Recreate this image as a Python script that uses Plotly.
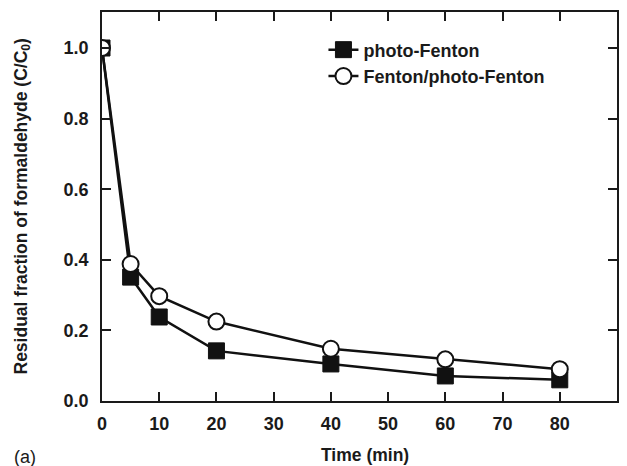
import plotly.graph_objects as go

time_min = [0, 5, 10, 20, 40, 60, 80]
photo_fenton = [1.0, 0.351, 0.238, 0.142, 0.105, 0.071, 0.060]
fenton_photo_fenton = [1.0, 0.388, 0.297, 0.225, 0.148, 0.118, 0.090]

x_ticks = [0, 10, 20, 30, 40, 50, 60, 70, 80, 90]
y_ticks = [0.0, 0.2, 0.4, 0.6, 0.8, 1.0]
y_tick_labels = ["0.0", "0.2", "0.4", "0.6", "0.8", "1.0"]

font_family = "Liberation Sans, Arial, sans-serif"
ink = "#1a1a1a"

fig = go.Figure()
fig.add_trace(go.Scatter(
    x=time_min, y=photo_fenton, mode="lines+markers", name="<b>photo-Fenton</b>",
    line=dict(color="#111111", width=2.5),
    marker=dict(symbol="square", size=16, color="#111111", line=dict(color="#111111", width=1)),
))
fig.add_trace(go.Scatter(
    x=time_min, y=fenton_photo_fenton, mode="lines+markers", name="<b>Fenton/photo-Fenton</b>",
    line=dict(color="#111111", width=2.5),
    marker=dict(symbol="circle", size=16, color="white", line=dict(color="#111111", width=2)),
))

axis_common = dict(ticks="inside", ticklen=9, tickwidth=1.5, tickcolor=ink,
                   showline=True, linecolor=ink, linewidth=1.8, mirror="ticks",
                   showgrid=False, zeroline=False, automargin=False,
                   tickfont=dict(size=18, family=font_family, color=ink))

fig.update_layout(
    width=627, height=466,
    margin=dict(l=102, r=10, t=12, b=65),
    paper_bgcolor="white", plot_bgcolor="white",
    font=dict(family=font_family, color=ink, size=17),
    showlegend=True,
    legend=dict(x=0.43, y=0.95, xanchor="left", yanchor="top",
                bgcolor="rgba(0,0,0,0)", font=dict(size=18, family=font_family, color=ink),
                itemwidth=30, tracegroupgap=0),
    xaxis=dict(range=[0, 90], tickvals=x_ticks, ticktext=["<b>%d</b>" % v for v in x_ticks],
               ticklabelstandoff=5, **axis_common),
    yaxis=dict(range=[0, 1.102], tickvals=y_ticks,
               ticktext=["<b>%s</b>" % t for t in y_tick_labels],
               ticklabelstandoff=8, **axis_common),
)

fig.add_annotation(text="<b>Time (min)</b>", xref="paper", yref="paper",
                   x=0.51, y=0, yshift=-54, xanchor="center", yanchor="middle",
                   showarrow=False, font=dict(size=17.5, family=font_family, color=ink))
fig.add_annotation(text="<b>Residual fraction of formaldehyde (C/C<sub>0</sub>)</b>",
                   xref="paper", yref="paper", x=0, xshift=-80, y=0.5,
                   xanchor="center", yanchor="middle", textangle=-90,
                   showarrow=False, font=dict(size=17.5, family=font_family, color=ink))
fig.add_annotation(text="(a)", xref="paper", yref="paper", x=0, xshift=-90, y=0, yshift=-56,
                   xanchor="left", yanchor="middle", showarrow=False,
                   font=dict(size=18, family=font_family, color=ink))

fig.write_html("out.html", config={"displayModeBar": False},
               post_script="document.body.style.margin='0';document.body.style.overflow='hidden';")
